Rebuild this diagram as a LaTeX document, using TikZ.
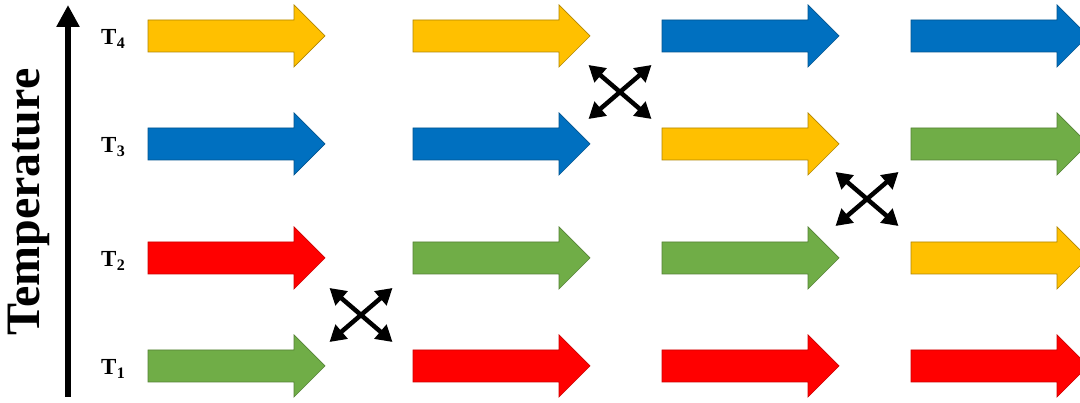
\documentclass[tikz,border=0pt]{standalone}
\usepackage{fontspec}
\setmainfont{Liberation Serif}
\usetikzlibrary{arrows.meta}

\definecolor{bandgold}{HTML}{FFC000}
\definecolor{bandblue}{HTML}{0070C0}
\definecolor{bandred}{HTML}{FF0000}
\definecolor{bandgreen}{HTML}{70AD47}

\tikzset{
  % block arrow: shaft 32 high, head 62 high, total length 177
  band/.pic={
    \path[pic actions] (0,-16) -- (146,-16) -- (146,-31) -- (177,0)
      -- (146,31) -- (146,16) -- (0,16) -- cycle;
  },
  gold/.style={fill=bandgold, draw=bandgold!70!black, line width=0.7pt},
  blue/.style={fill=bandblue, draw=bandblue!75!black, line width=0.7pt},
  red/.style={fill=bandred, draw=bandred!80!black, line width=0.7pt},
  green/.style={fill=bandgreen, draw=bandgreen!75!black, line width=0.7pt},
  swaparrow/.style={line width=4.5pt, {Triangle[length=16pt,width=18pt]}-{Triangle[length=16pt,width=18pt]}},
  % exchange symbol: two crossing double-headed arrows
  swap/.pic={
    \draw[swaparrow] (-31.5,-27) -- (31.5,27);
    \draw[swaparrow] (-31.5,27) -- (31.5,-27);
  },
  level/.style={font=\bfseries\fontsize{23}{23}\selectfont, inner sep=0pt},
}
\newcommand{\lvl}[1]{T\kern0.5pt\raisebox{-4pt}{\fontsize{16}{16}\selectfont #1}}

\begin{document}
\begin{tikzpicture}[x=1pt, y=1pt]
\useasboundingbox (0,0) rectangle (1080,403);
\fill[white] (0,0) rectangle (1080,403);

% temperature axis
\coordinate (axbot) at (68,6);
\coordinate (axtop) at (68,398);
\draw[line width=6pt, -{Triangle[length=22pt,width=22pt]}] (axbot) -- (axtop);
\node[rotate=90, font=\bfseries\fontsize{48}{48}\selectfont, inner sep=0pt]
  (axlabel) at (29,201) {Temperature};

% temperature levels
\node[level] (t4) at (113,364) {\lvl{4}};
\node[level] (t3) at (113,256) {\lvl{3}};
\node[level] (t2) at (113,142) {\lvl{2}};
\node[level] (t1) at (113,34) {\lvl{1}};

\begin{scope}
\clip (0,0) rectangle (1080,403);
% column 1
\pic[gold]  (c1r4) at (148,367) {band};
\pic[blue]  (c1r3) at (148,259) {band};
\pic[red]   (c1r2) at (148,145) {band};
\pic[green] (c1r1) at (148,37)  {band};
% column 2
\pic[gold]  (c2r4) at (413,367) {band};
\pic[blue]  (c2r3) at (413,259) {band};
\pic[green] (c2r2) at (413,145) {band};
\pic[red]   (c2r1) at (413,37)  {band};
% column 3
\pic[blue]  (c3r4) at (662,367) {band};
\pic[gold]  (c3r3) at (662,259) {band};
\pic[green] (c3r2) at (662,145) {band};
\pic[red]   (c3r1) at (662,37)  {band};
% column 4
\pic[blue]  (c4r4) at (911,367) {band};
\pic[green] (c4r3) at (911,259) {band};
\pic[gold]  (c4r2) at (911,145) {band};
\pic[red]   (c4r1) at (911,37)  {band};
\end{scope}

% exchanges between neighbouring levels
\pic (x12) at (361,88)  {swap};
\pic (x34) at (620,311) {swap};
\pic (x23) at (867,204) {swap};
\end{tikzpicture}
\end{document}
